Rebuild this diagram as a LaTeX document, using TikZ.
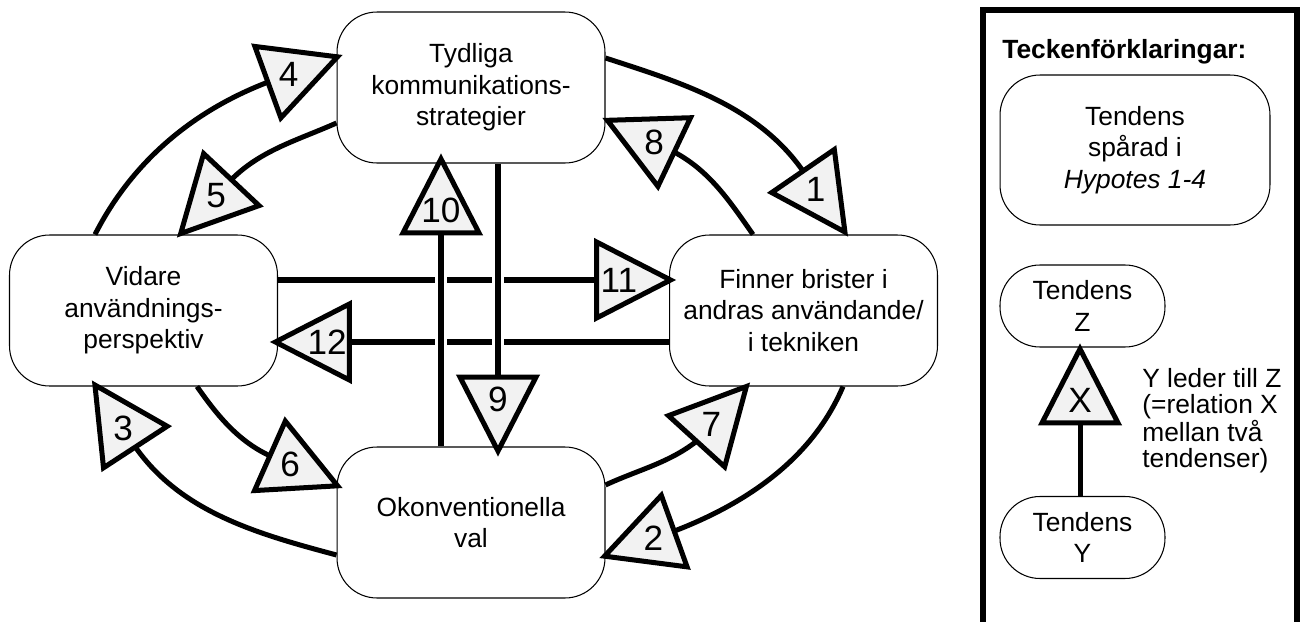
\documentclass[tikz,border=0pt]{standalone}
\usepackage{fontspec}
\setmainfont{Liberation Sans}
\usetikzlibrary{calc}

% Geometry of one relation marker: outer tip, pointing direction.
% Defines apex, base midpoint and the two base corners.
\newcommand\relpoint[3]{%
  \path #2 coordinate (#1-tip) ++({#3+180}:5.4) coordinate (#1-apex)
        ++({#3+180}:74) coordinate (#1-base);
  \path (#1-base) ++({#3+90}:38) coordinate (#1-c1);
  \path (#1-base) ++({#3-90}:38) coordinate (#1-c2);
}
% Draw the marker triangle and its number
\newcommand\relmarker[2]{%
  \draw[relmark] (#1-apex) -- (#1-c1) -- (#1-c2) -- cycle;
  \node[relnum] (#1-num) at ($(#1-base)!0.3!(#1-apex)$) {#2};
}

\tikzset{
  tend/.style={draw, line width=0.6pt, rounded corners=0.8cm, fill=white,
    align=center, inner sep=0pt, font=\fontsize{15}{18}\selectfont},
  mainbox/.style={tend, minimum width=5.36cm, minimum height=3.02cm},
  link/.style={line width=2.85pt},
  relmark/.style={draw=black, fill=black!5, line width=2.85pt,
    line join=miter, miter limit=10},
  relnum/.style={font=\fontsize{20}{22}\selectfont, inner sep=0pt},
  gap/.style={white, line width=7pt},
}

\begin{document}
\begin{tikzpicture}[x=0.02cm, y=0.02cm]
\useasboundingbox (0,0) rectangle (1303,-622);

% tendencies
\node[mainbox] (T) at (471,-87.5) {Tydliga\\kommunikations-\\strategier};
\node[mainbox] (L) at (143.5,-310.5) {Vidare\\användnings-\\perspektiv};
\node[mainbox] (R) at (803.5,-310.5) {Finner brister i\\andras användande/\\i tekniken};
\node[mainbox] (B) at (471,-522.5) {Okonventionella\\val};

% marker positions
\relpoint{t1}{($(R.north)+(44.5,-2)$)}{-55.5}
\relpoint{t2}{($(B.east)+(-6,-35.5)$)}{-160.2}
\relpoint{t3}{($(L.south)+(-51.5,6)$)}{123.1}
\relpoint{t4}{($(T.west)+(6,32.5)$)}{20}
\relpoint{t5}{($(L.north)+(33.5,-3)$)}{-133.2}
\relpoint{t6}{($(B.west)+(6,34.5)$)}{-23.9}
\relpoint{t7}{($(R.south)+(-53.5,4)$)}{47.7}
\relpoint{t8}{($(T.east)+(-3,-30.5)$)}{154.6}
\relpoint{t9}{($(B.north)+(27,-10)$)}{-90}
\relpoint{t10}{($(T.south)+(-30,10)$)}{90}
\relpoint{t11}{($(R.west)+(7,30.5)$)}{0}
\relpoint{t12}{($(L.east)+(-8,-31.5)$)}{180}

% outer loop
\draw[link] ($(T.east)+(0,29.5)$) to[out=-18, in=125, looseness=0.9] (t1-base);
\draw[link] ($(R.south)+(39.5,0)$) to[out=-113, in=21, looseness=0.9] (t2-base);
\draw[link] ($(B.west)+(0,-32.5)$) to[out=165, in=-55, looseness=0.9] (t3-base);
\draw[link] ($(L.north)+(-48.5,0)$) to[out=63, in=-159, looseness=0.9] (t4-base);
% inner loop
\draw[link] ($(T.west)+(0,-35.5)$) to[out=204, in=45, looseness=0.9] (t5-base);
\draw[link] ($(L.south)+(53.5,0)$) to[out=-55, in=155, looseness=0.9] (t6-base);
\draw[link] ($(B.east)+(0,37.5)$) to[out=25, in=218, looseness=0.9] (t7-base);
\draw[link] ($(R.north)+(-50.5,0)$) to[out=125, in=-28, looseness=0.9] (t8-base);

% straight relations
\draw[link] (t11-base -| L.east) -- (t11-base);
\draw[link] (t12-base -| R.west) -- (t12-base);
\coordinate (x1) at (t10-base |- t11-base);
\coordinate (x2) at (t9-base |- t11-base);
\coordinate (x3) at (t10-base |- t12-base);
\coordinate (x4) at (t9-base |- t12-base);
\foreach \c in {x1,x2,x3,x4}
  \draw[gap] ($(\c)+(0,5)$) -- ($(\c)+(0,-5)$);
\draw[link] (t9-base |- T.south) -- (t9-base);
\draw[link] (t10-base |- B.north) -- (t10-base);

\relmarker{t1}{1}
\relmarker{t2}{2}
\relmarker{t3}{3}
\relmarker{t4}{4}
\relmarker{t5}{5}
\relmarker{t6}{6}
\relmarker{t7}{7}
\relmarker{t8}{8}
\relmarker{t9}{9}
\relmarker{t10}{10}
\relmarker{t11}{11}
\relmarker{t12}{12}

% legend
\draw[line width=3.4pt, line join=miter] (983,-622) -- (983,-10) -- (1297,-10) -- (1297,-622);
\node[anchor=base west, inner sep=0pt, font=\bfseries\fontsize{15}{18}\selectfont]
  (title) at (1002,-58) {Teckenförklaringar:};
\node[tend, minimum width=5.4cm, minimum height=3cm] (LH) at (1135,-150)
  {Tendens\\spårad i\\\textit{Hypotes 1-4}};
\node[tend, minimum width=3.3cm, minimum height=1.64cm] (LZ) at (1082.5,-306) {Tendens\\Z};
\node[tend, minimum width=3.3cm, minimum height=1.64cm] (LY) at (1082.5,-537.5) {Tendens\\Y};
\relpoint{tX}{($(LZ.south)+(-2.5,4)$)}{90}
\draw[link] (tX-base |- LY.north) -- (tX-base);
\relmarker{tX}{X}
\node[anchor=north west, align=left, inner sep=0pt, font=\fontsize{15}{14.8}\selectfont]
  (note) at (1142,-368) {Y leder till Z\\(=relation X\\mellan två\\tendenser)};
\end{tikzpicture}
\end{document}
